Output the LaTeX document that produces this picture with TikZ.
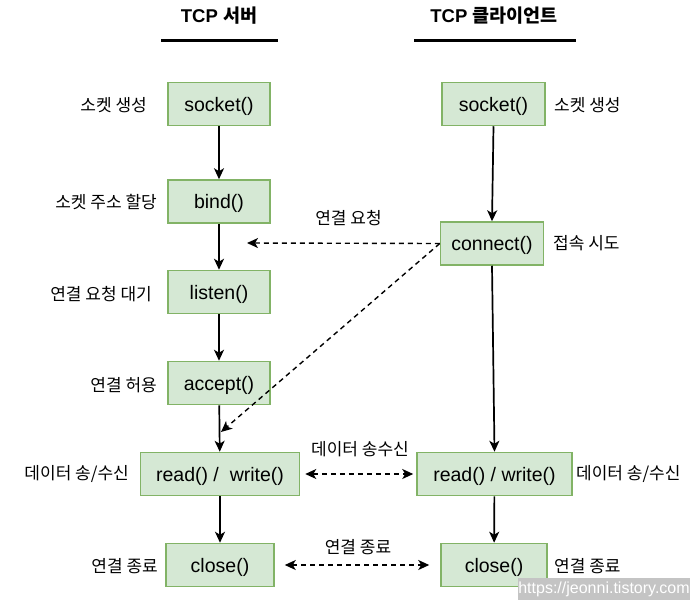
\documentclass[tikz,border=0pt]{standalone}
\usepackage{fontspec}
\setmainfont{Liberation Sans}
\newfontfamily\kr{Noto Sans CJK KR}
\usetikzlibrary{arrows.meta}
\definecolor{boxfill}{HTML}{D5E8D4}
\definecolor{boxline}{HTML}{82B366}
\definecolor{wmgray}{HTML}{C4C4C4}
\begin{document}
\begin{tikzpicture}[x=1pt,y=-1pt,
 box/.style={draw=boxline, fill=boxfill, line width=1.5pt, minimum height=43pt, inner sep=0pt, text height=18.5pt, text depth=4.1pt, font=\fontsize{19.5}{21}\selectfont},
 lbl/.style={font=\kr\fontsize{17}{19}\selectfont, inner sep=0pt},
 ttl/.style={font=\fontsize{18.5}{20}\selectfont\bfseries, inner sep=0pt},
 arr/.style={-{Stealth[length=11pt,width=10pt,inset=3pt]}, line width=1.7pt},
 darr/.style={-{Stealth[length=11pt,width=10pt,inset=3pt]}, line width=1.4pt, dash pattern=on 5pt off 4pt},
 ddarr/.style={{Stealth[length=11pt,width=10pt,inset=3pt]}-{Stealth[length=11pt,width=10pt,inset=3pt]}, line width=1.4pt, dash pattern=on 5pt off 4pt},
 uline/.style={line width=3pt},
]
\useasboundingbox (0,0) rectangle (690,600);

% titles
\node[ttl] (tserver) at (219,16) {TCP {\kr 서버}};
\node[ttl] (tclient) at (494,16) {TCP {\kr 클라이언트}};
\draw[uline] (161,40) -- (278,40);
\draw[uline] (414,40) -- (576,40);

% server boxes
\node[box, minimum width=102pt] (ssock) at (219,104) {socket()};
\node[box, minimum width=102pt] (sbind) at (219,201.5) {bind()};
\node[box, minimum width=102pt] (slisten) at (219,292) {listen()};
\node[box, minimum width=102pt] (saccept) at (219,383) {accept()};
\node[box, minimum width=159pt] (sread) at (220,474) {read() /\ \ write()};
\node[box, minimum width=108pt] (sclose) at (220,565) {close()};

% client boxes
\node[box, minimum width=103pt] (csock) at (493.5,104) {socket()};
\node[box, minimum width=103pt] (cconn) at (492,243.5) {connect()};
\node[box, minimum width=155pt] (cread) at (494.5,474) {read() / write()};
\node[box, minimum width=106pt] (cclose) at (494,565) {close()};

% left labels
\node[lbl, anchor=east] (l1) at (147,105) {소켓 생성};
\node[lbl, anchor=east] (l2) at (157,202) {소켓 주소 할당};
\node[lbl, anchor=east] (l3) at (152,294) {연결 요청 대기};
\node[lbl, anchor=east] (l4) at (157,385) {연결 허용};
\node[lbl, anchor=east] (l5) at (129,474) {데이터 송/수신};
\node[lbl, anchor=east] (l6) at (158,566) {연결 종료};

% right labels
\node[lbl, anchor=west] (r1) at (554,105) {소켓 생성};
\node[lbl, anchor=west] (r2) at (553,243) {접속 시도};
\node[lbl, anchor=west] (r3) at (576,474) {데이터 송/수신};
\node[lbl, anchor=west] (r4) at (554,566) {연결 종료};

% middle labels
\node[lbl] (m1) at (348.5,218) {연결 요청};
\node[lbl] (m2) at (360,449) {데이터 송수신};
\node[lbl] (m3) at (358,547) {연결 종료};

% solid arrows
\draw[arr] (ssock) -- (sbind);
\draw[arr] (sbind) -- (slisten);
\draw[arr] (slisten) -- (saccept);
\draw[arr] (saccept) -- (sread);
\draw[arr] (sread) -- (sclose);
\draw[arr] (csock.south) -- (cconn.north);
\draw[arr] (cconn.south) -- (cread.north);
\draw[arr] (cread) -- (cclose);

% dashed arrows
\coordinate (reqend) at (247,243);
\coordinate (accend) at (221,432);
\draw[darr] (cconn.west) -- (reqend);
\draw[darr] (cconn.west) -- (accend);
\draw[ddarr, shorten <=5pt, shorten >=3pt] (sread.east) -- (cread.west);
\draw[ddarr, shorten <=10pt, shorten >=11pt] (sclose.east) -- (cclose.west);

% watermark
\fill[wmgray] (518,578) rectangle (690,600);
\node[text=white, font=\fontsize{16}{17}\selectfont, inner sep=0pt] (wm) at (604,589) {https://jeonni.tistory.com};
\end{tikzpicture}
\end{document}
